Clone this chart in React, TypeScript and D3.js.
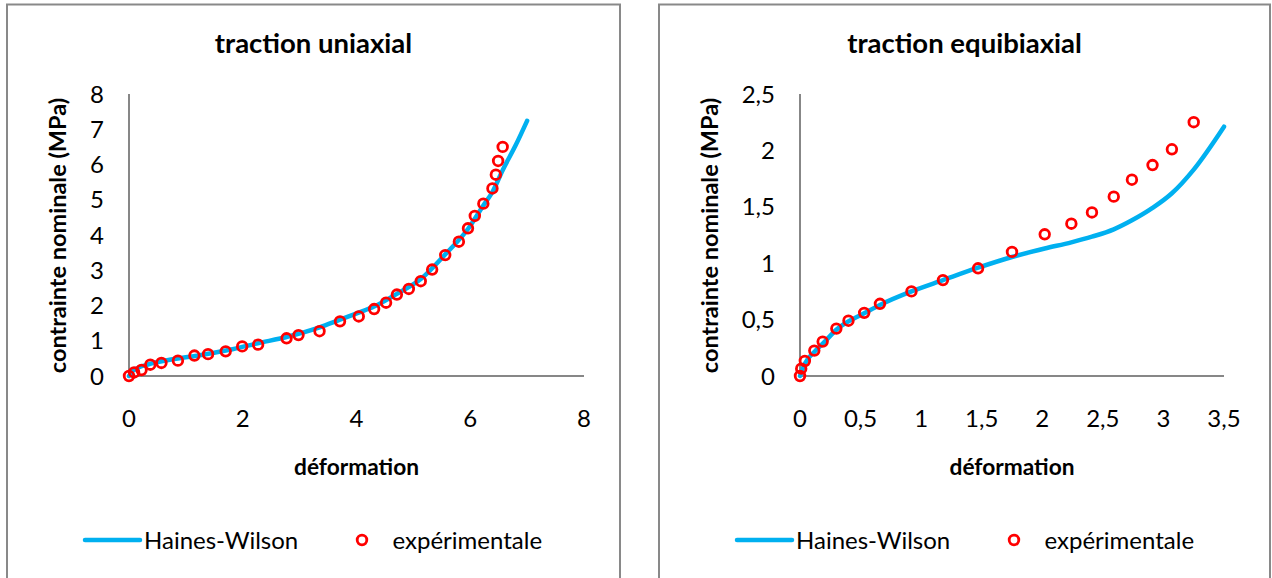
import React from "react";
import * as d3 from "d3";

// Uniaxial traction: experimental points
const uniExpX = [0, 0.09, 0.22, 0.375, 0.57, 0.86, 1.15, 1.39, 1.7, 1.99, 2.27, 2.77, 2.98, 3.35, 3.71, 4.04, 4.31, 4.52, 4.71, 4.92, 5.13, 5.33, 5.56, 5.8, 5.96, 6.08, 6.23, 6.39, 6.45, 6.49, 6.57];
const uniExpY = [0, 0.1, 0.17, 0.32, 0.37, 0.435, 0.58, 0.62, 0.7, 0.84, 0.89, 1.07, 1.16, 1.27, 1.55, 1.69, 1.9, 2.08, 2.31, 2.47, 2.69, 3.02, 3.43, 3.81, 4.19, 4.54, 4.89, 5.32, 5.71, 6.1, 6.5];
// Uniaxial traction: Haines-Wilson model
const uniModelX = [0, 0.07, 0.36, 0.65, 1.24, 1.82, 2.24, 2.8, 3.35, 3.71, 4.04, 4.31, 4.71, 5.13, 5.56, 5.96, 6.23, 6.39, 6.57, 6.8, 7.0];
const uniModelY = [0, 0.15, 0.34, 0.44, 0.59, 0.76, 0.92, 1.12, 1.38, 1.6, 1.8, 1.97, 2.33, 2.75, 3.45, 4.17, 4.84, 5.22, 5.84, 6.55, 7.24];

// Equibiaxial traction: experimental points
const biExpX = [0, 0.01, 0.04, 0.118, 0.187, 0.3, 0.4, 0.53, 0.66, 0.92, 1.18, 1.47, 1.75, 2.02, 2.24, 2.41, 2.59, 2.74, 2.91, 3.07, 3.25];
const biExpY = [0, 0.065, 0.133, 0.225, 0.305, 0.42, 0.49, 0.56, 0.64, 0.75, 0.85, 0.955, 1.1, 1.256, 1.35, 1.45, 1.59, 1.74, 1.87, 2.01, 2.25];
// Equibiaxial traction: Haines-Wilson model
const biModelX = [0, 0.04, 0.12, 0.2, 0.3, 0.53, 0.66, 0.92, 1.18, 1.47, 1.75, 2.02, 2.24, 2.41, 2.59, 2.74, 2.91, 3.07, 3.25, 3.5];
const biModelY = [0, 0.11, 0.215, 0.3, 0.41, 0.556, 0.63, 0.75, 0.85, 0.96, 1.055, 1.13, 1.185, 1.235, 1.3, 1.38, 1.49, 1.62, 1.83, 2.21];

// Axis ticks
const uniXTicks = [0, 2, 4, 6, 8];
const uniYTicks = [0, 1, 2, 3, 4, 5, 6, 7, 8];
const biXTicks = [0, 0.5, 1, 1.5, 2, 2.5, 3, 3.5];
const biYTicks = [0, 0.5, 1, 1.5, 2, 2.5];

const titles = ["traction uniaxial", "traction equibiaxial"];
const xLabel = "déformation";
const yLabel = "contrainte nominale (MPa)";
const seriesNames = ["Haines-Wilson", "expérimentale"];

const frLocale = d3.formatLocale({ decimal: ",", thousands: " ", grouping: [3], currency: ["", " €"] });
const fmt = frLocale.format("~g");

const FONT = "Lato, 'Open Sans', sans-serif";
const LINE_COLOR = "#00B0F0";
const MARK_COLOR = "#FF0000";
const AXIS_COLOR = "#878787";

type PanelProps = {
  left: number;
  right: number;
  plotLeft: number;
  plotRight: number;
  title: string;
  xDomain: [number, number];
  yDomain: [number, number];
  xTicks: number[];
  yTicks: number[];
  modelX: number[];
  modelY: number[];
  expX: number[];
  expY: number[];
};

function Panel(p: PanelProps) {
  const top = 94;
  const bottom = 376;
  const x = d3.scaleLinear().domain(p.xDomain).range([p.plotLeft, p.plotRight]);
  const y = d3.scaleLinear().domain(p.yDomain).range([bottom, top]);
  const model = p.modelX.map((v, i) => [v, p.modelY[i]] as [number, number]);
  const exp = p.expX.map((v, i) => [v, p.expY[i]] as [number, number]);
  const line = d3
    .line<[number, number]>()
    .x((d) => x(d[0]))
    .y((d) => y(d[1]))
    .curve(d3.curveMonotoneX);
  const cx = (p.left + p.right) / 2;
  const plotCx = (p.plotLeft + p.plotRight) / 2;
  const legX = p.left + 78;
  return (
    <g>
      <rect x={p.left} y={4.5} width={p.right - p.left} height={620} fill="#fff" stroke="#898989" strokeWidth={2} />
      <text x={cx} y={53} textAnchor="middle" fontFamily={FONT} fontWeight="bold" fontSize={27.5} fill="#000">
        {p.title}
      </text>
      {/* axes */}
      <line x1={p.plotLeft} x2={p.plotLeft} y1={top} y2={bottom} stroke={AXIS_COLOR} strokeWidth={2} />
      <line x1={p.plotLeft} x2={p.plotRight} y1={bottom} y2={bottom} stroke={AXIS_COLOR} strokeWidth={2} />
      {p.yTicks.map((t) => (
        <text key={"y" + t} x={p.plotLeft - 25} y={y(t)} dy="0.36em" textAnchor="end" fontFamily={FONT} fontSize={24} fill="#000">
          {fmt(t)}
        </text>
      ))}
      {p.xTicks.map((t) => (
        <text key={"x" + t} x={x(t)} y={427} textAnchor="middle" fontFamily={FONT} fontSize={24} fill="#000">
          {fmt(t)}
        </text>
      ))}
      <text x={plotCx} y={475} textAnchor="middle" fontFamily={FONT} fontWeight="bold" fontSize={22.7} fill="#000">
        {xLabel}
      </text>
      <text
        transform={`translate(${p.left + 59},235.5) rotate(-90)`}
        textAnchor="middle"
        fontFamily={FONT}
        fontWeight="bold"
        fontSize={23.5}
        fill="#000"
      >
        {yLabel}
      </text>
      {/* series */}
      <path d={line(model) ?? ""} fill="none" stroke={LINE_COLOR} strokeWidth={4.5} strokeLinecap="round" />
      {exp.map((d, i) => (
        <circle key={i} cx={x(d[0])} cy={y(d[1])} r={4.8} fill="none" stroke={MARK_COLOR} strokeWidth={2.8} />
      ))}
      {/* legend */}
      <line x1={legX} x2={legX + 55} y1={540} y2={540} stroke={LINE_COLOR} strokeWidth={4.5} strokeLinecap="round" />
      <text x={legX + 59} y={548.5} fontFamily={FONT} fontSize={24} fill="#000">
        {seriesNames[0]}
      </text>
      <circle cx={p.left + 355} cy={540} r={4.8} fill="none" stroke={MARK_COLOR} strokeWidth={2.8} />
      <text x={p.left + 385.5} y={548.5} fontFamily={FONT} fontSize={24} fill="#000">
        {seriesNames[1]}
      </text>
    </g>
  );
}

export default function App() {
  return (
    <svg width={1272} height={578} style={{ position: "absolute", left: 0, top: 0, background: "#fff" }}>
      <rect width={1272} height={578} fill="#fff" />
      <Panel
        left={7}
        right={620}
        plotLeft={129}
        plotRight={584}
        title={titles[0]}
        xDomain={[0, 8]}
        yDomain={[0, 8]}
        xTicks={uniXTicks}
        yTicks={uniYTicks}
        modelX={uniModelX}
        modelY={uniModelY}
        expX={uniExpX}
        expY={uniExpY}
      />
      <Panel
        left={659}
        right={1270}
        plotLeft={800}
        plotRight={1224}
        title={titles[1]}
        xDomain={[0, 3.5]}
        yDomain={[0, 2.5]}
        xTicks={biXTicks}
        yTicks={biYTicks}
        modelX={biModelX}
        modelY={biModelY}
        expX={biExpX}
        expY={biExpY}
      />
    </svg>
  );
}
